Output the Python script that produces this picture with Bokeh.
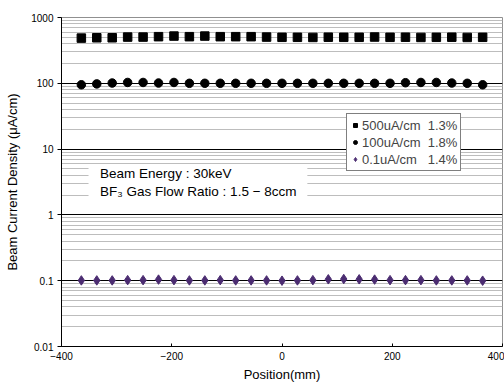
from bokeh.plotting import figure
from bokeh.models import (Range1d, FixedTicker, CustomJSTickFormatter, Legend, LegendItem,
                          Label, BoxAnnotation, ColumnDataSource)
from bokeh.embed import file_html
from bokeh.resources import INLINE

# ---- data ----
positions = [-364 + 28 * i for i in range(27)]
series_500 = [486, 492, 492, 504, 504, 511, 522, 511, 522, 511, 511, 511, 504, 500,
              500, 498, 502, 500, 500, 505, 500, 502, 498, 500, 502, 498, 500]
series_100 = [95, 98, 101, 103, 103, 101, 103, 100, 100, 100, 100, 100, 100, 100,
              100, 100, 100, 100, 100, 100, 100, 102, 103, 103, 101, 100, 95]
series_01 = [0.101, 0.101, 0.101, 0.102, 0.102, 0.104, 0.102, 0.101, 0.101, 0.102, 0.101,
             0.101, 0.101, 0.100, 0.101, 0.102, 0.105, 0.106, 0.105, 0.104, 0.102, 0.102,
             0.102, 0.101, 0.101, 0.101, 0.100]
legend_labels = ["500uA/cm  1.3%", "100uA/cm  1.8%", "0.1uA/cm   1.4%"]
y_major = [0.01, 0.1, 1, 10, 100, 1000]
y_minor = [m * d for d in [0.01, 0.1, 1, 10, 100] for m in range(2, 10)]
x_major = [-400, -200, 0, 200, 400]
note_lines = ["Beam Energy : 30keV", "BF\u2083  Gas Flow Ratio : 1.5 \u2212 8ccm"]

FONT = "Liberation Sans"

p = figure(width=504, height=384, y_axis_type="log", output_backend="svg",
           toolbar_location=None, x_range=Range1d(-400, 400), y_range=Range1d(0.01, 1000),
           min_border_left=61, min_border_right=2, min_border_top=17, min_border_bottom=36)
p.background_fill_color = "white"
p.border_fill_color = "white"
p.outline_line_color = "#909090"

# axes
p.xaxis.ticker = FixedTicker(ticks=x_major)
p.yaxis.ticker = FixedTicker(ticks=y_major, minor_ticks=y_minor)
p.xaxis.formatter = CustomJSTickFormatter(code="return tick < 0 ? '\\u2212' + Math.abs(tick) : tick.toString();")
p.yaxis.formatter = CustomJSTickFormatter(code="return tick >= 1 ? tick.toFixed(0) : tick.toString();")
for ax in (p.xaxis[0], p.yaxis[0]):
    ax.axis_line_color = "black"
    ax.axis_line_width = 1
    ax.major_tick_line_color = "black"
    ax.minor_tick_line_color = None
    ax.major_label_text_font = FONT
    ax.major_label_text_font_size = "10px"
    ax.major_label_text_color = "black"
    ax.axis_label_text_font = FONT
    ax.axis_label_text_font_size = "13px"
    ax.axis_label_text_font_style = "normal"
    ax.axis_label_text_color = "black"
p.xaxis.major_tick_in = 3
p.xaxis.major_tick_out = 0
p.yaxis.major_tick_in = 0
p.yaxis.major_tick_out = 4
p.xaxis.major_label_standoff = 5
p.yaxis.major_label_standoff = 4
p.xaxis.axis_label = "Position(mm)"
p.yaxis.axis_label = "Beam Current Density (\u03bcA/cm)"
p.xaxis.axis_label_standoff = 4
p.yaxis.axis_label_standoff = 8

# grid
p.xgrid.grid_line_color = None
p.ygrid.grid_line_color = "black"
p.ygrid.grid_line_width = 1
p.ygrid.minor_grid_line_color = "#bdbdbd"
p.ygrid.minor_grid_line_width = 1

# annotation box + text
p.add_layout(BoxAnnotation(left=-351, right=46, bottom=1.47, top=5.5,
                           fill_color="white", fill_alpha=1.0, line_color=None, level="underlay"))
p.add_layout(Label(x=-330, y=10 ** ((216 - 174) / 66.2), text=note_lines[0], text_font=FONT,
                   text_font_size="13.5px", text_baseline="middle", text_color="black"))
p.add_layout(Label(x=-330, y=10 ** ((216 - 192) / 66.2), text=note_lines[1], text_font=FONT,
                   text_font_size="13.5px", text_baseline="middle", text_color="black"))

src = ColumnDataSource(dict(x=positions, a=series_500, b=series_100, c=series_01))
r1 = p.scatter("x", "a", source=src, marker="square", size=8.5, color="black")
r2 = p.scatter("x", "b", source=src, marker="circle", size=8.5, color="black")
r3 = p.scatter("x", "c", source=src, marker="diamond", size=9.5, color="#4B2C71")

legend = Legend(items=[LegendItem(label=legend_labels[0], renderers=[r1]),
                       LegendItem(label=legend_labels[1], renderers=[r2]),
                       LegendItem(label=legend_labels[2], renderers=[r3])],
                location=(285, 175))
legend.label_text_font = FONT
legend.label_text_font_size = "13px"
legend.label_height = 16
legend.glyph_height = 12
legend.glyph_width = 10
legend.spacing = 1
legend.padding = 3
legend.margin = 0
legend.label_standoff = 2
legend.border_line_color = "black"
legend.border_line_width = 1
legend.background_fill_alpha = 1.0
p.add_layout(legend)

open("out.html", "w").write(file_html(p, INLINE))
